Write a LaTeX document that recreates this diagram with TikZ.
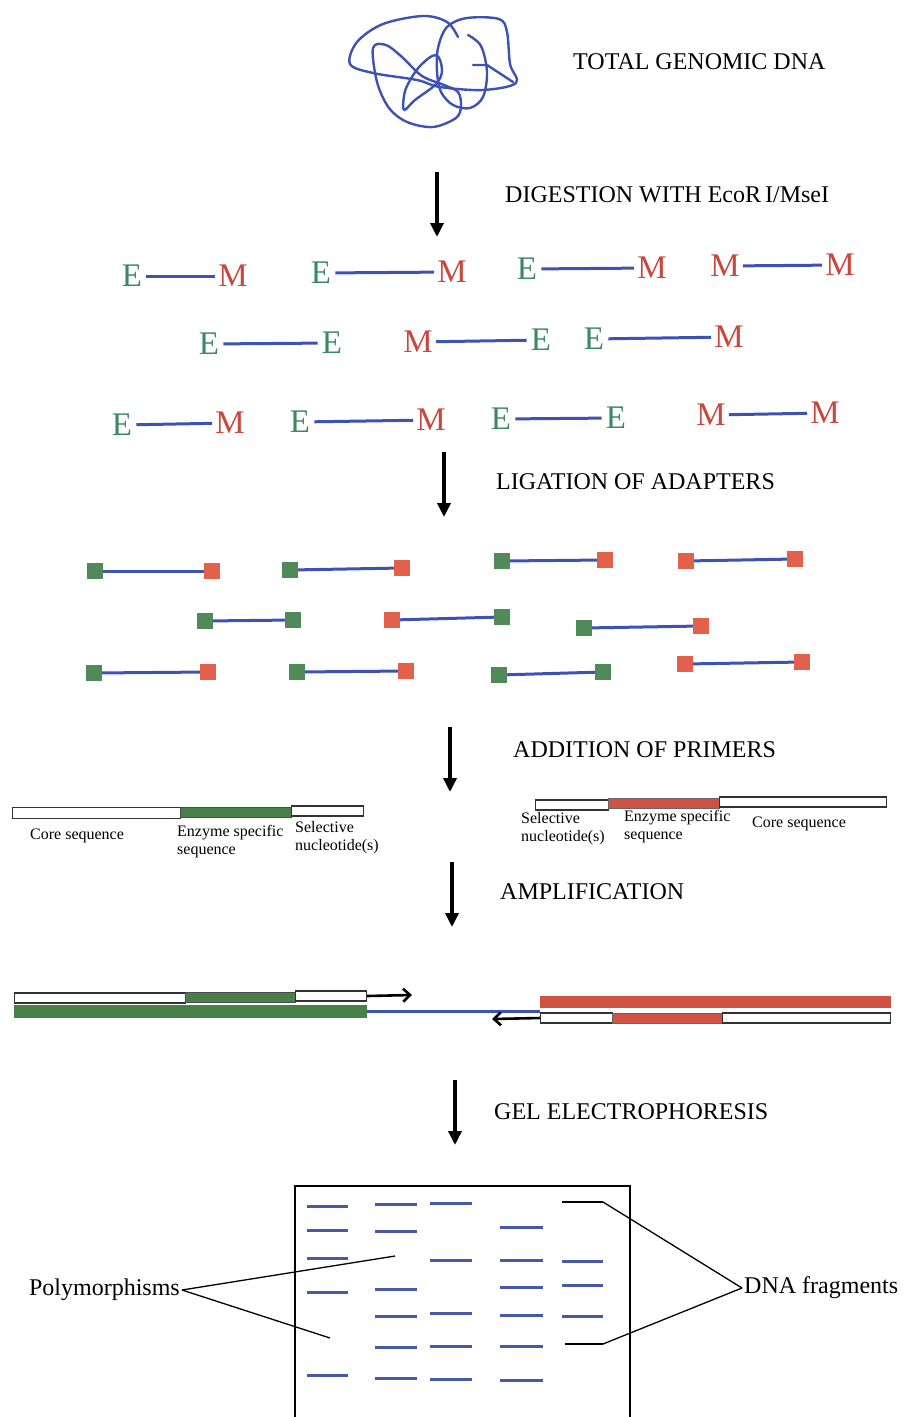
\documentclass[tikz,border=0pt]{standalone}
\usepackage{fontspec}
\setmainfont{Liberation Serif}
\usetikzlibrary{arrows.meta}
\definecolor{dnablue}{RGB}{62,82,180}
\definecolor{eGreen}{RGB}{60,135,100}
\definecolor{mRed}{RGB}{200,72,62}
\definecolor{adGreen}{RGB}{80,138,88}
\definecolor{adRed}{RGB}{226,96,76}
\definecolor{prGreen}{RGB}{72,128,74}
\definecolor{prRed}{RGB}{208,82,66}
\definecolor{bandBlue}{RGB}{72,88,170}
\tikzset{
  dna/.style={draw=dnablue, line width=2.4pt, line join=round, line cap=round},
  heading/.style={font=\fontsize{24}{26}\selectfont, inner sep=0, anchor=west},
  letE/.style={font=\fontsize{33}{33}\selectfont, text=eGreen, inner xsep=4pt, inner ysep=0, text height=21.8pt, text depth=0pt},
  letM/.style={font=\fontsize{33}{33}\selectfont, text=mRed, inner xsep=3pt, inner ysep=0, text height=21.8pt, text depth=0pt},
  fragline/.style={draw=dnablue, line width=3pt},
  sqG/.style={fill=adGreen, minimum size=16pt, inner sep=0},
  sqR/.style={fill=adRed, minimum size=16pt, inner sep=0},
  stagearrow/.style={line width=3.4pt, -{Triangle[length=14pt,width=13pt]}},
  wbar/.style={draw=black!80, fill=white, line width=1.1pt, inner sep=0, anchor=west},
  gbar/.style={draw=black!70, fill=prGreen, line width=0.9pt, inner sep=0, anchor=west},
  rbar/.style={draw=black!60, fill=prRed, line width=0.9pt, inner sep=0, anchor=west},
  lab/.style={font=\fontsize{16}{18}\selectfont, inner sep=0, align=left},
  amparrow/.style={line width=2.6pt, -{Straight Barb[length=7pt,width=13pt,line width=2.6pt]}},
  band/.style={draw=bandBlue, line width=3pt},
  bandK/.style={draw=black, line width=2.8pt},
  pointer/.style={draw=black, line width=1.3pt},
  biglab/.style={font=\fontsize{24}{26}\selectfont, inner sep=2pt}
}
\begin{document}
\begin{tikzpicture}[x=1pt,y=-1pt]
\useasboundingbox (0,0) rectangle (906,1417);

% ---------- genomic DNA tangle ----------
\draw[dna] plot[smooth, tension=0.55] coordinates {(458,37) (447,22) (423,16) (383,24) (357,42) (350,64) (373,73) (417,80) (440,87) (483,90) (516,83) (510,64) (507,32) (499,19) (467,18) (447,27) (438,48) (437,72) (441,92) (453,105) (470,108) (483,97) (487,72) (481,46) (468,35)};
\draw[dna] plot[smooth cycle, tension=0.55] coordinates {(373,48) (386,45) (402,57) (422,76) (444,85) (458,92) (461,106) (456,118) (433,127) (407,122) (389,108) (377,82)};
\draw[dna] plot[smooth cycle, tension=0.6] coordinates {(408,84) (420,66) (436,55) (442,70) (436,84) (415,100) (404,110) (404,96)};
\draw[dna] (473,65) -- (487,65) -- (513,82);
\node[heading] (total) at (573,62) {TOTAL GENOMIC DNA};

% ---------- stage 1: digestion ----------
\coordinate (a1s) at (437,172); \coordinate (a1e) at (437,237);
\draw[stagearrow] (a1s) -- (a1e);
\node[heading] (digest) at (505,195) {DIGESTION WITH EcoR\,I/MseI};

% fragments row 1
\node[letE] (f1a) at (132,276) {E}; \node[letM] (f1b) at (233,276) {M};
\node[letE] (f2a) at (321,273) {E}; \node[letM] (f2b) at (452,272) {M};
\node[letE] (f3a) at (527,269) {E}; \node[letM] (f3b) at (652,268) {M};
\node[letM] (f4a) at (725,266) {M}; \node[letM] (f4b) at (840,265) {M};
% row 2
\node[letE] (f5a) at (209,344) {E}; \node[letE] (f5b) at (332,343) {E};
\node[letM] (f6a) at (418,342) {M}; \node[letE] (f6b) at (541,340) {E};
\node[letE] (f7a) at (594,339) {E}; \node[letM] (f7b) at (729,337) {M};
% row 3
\node[letE] (f8a) at (122,425) {E}; \node[letM] (f8b) at (230,423) {M};
\node[letE] (f9a) at (300,422) {E}; \node[letM] (f9b) at (431,420) {M};
\node[letE] (f10a) at (501,419) {E}; \node[letE] (f10b) at (616,418) {E};
\node[letM] (f11a) at (711,415) {M}; \node[letM] (f11b) at (825,413) {M};
\foreach \i in {1,...,11} {\draw[fragline] (f\i a) -- (f\i b);}

% ---------- stage 2: ligation ----------
\coordinate (a2s) at (444,452); \coordinate (a2e) at (444,517);
\draw[stagearrow] (a2s) -- (a2e);
\node[heading] (ligation) at (496,482) {LIGATION OF ADAPTERS};

\node[sqG] (d1a) at (95,571) {};  \node[sqR] (d1b) at (212,571) {};
\node[sqG] (d2a) at (290,570) {}; \node[sqR] (d2b) at (402,568) {};
\node[sqG] (d3a) at (502,561) {}; \node[sqR] (d3b) at (605,560) {};
\node[sqR] (d4a) at (686,561) {}; \node[sqR] (d4b) at (795,559) {};
\node[sqG] (d5a) at (205,621) {}; \node[sqG] (d5b) at (293,620) {};
\node[sqR] (d6a) at (392,620) {}; \node[sqG] (d6b) at (502,617) {};
\node[sqG] (d7a) at (584,628) {}; \node[sqR] (d7b) at (701,626) {};
\node[sqG] (d8a) at (94,673) {};  \node[sqR] (d8b) at (208,672) {};
\node[sqG] (d9a) at (297,672) {}; \node[sqR] (d9b) at (406,671) {};
\node[sqG] (d10a) at (499,675) {}; \node[sqG] (d10b) at (603,672) {};
\node[sqR] (d11a) at (685,664) {}; \node[sqR] (d11b) at (802,662) {};
\foreach \i in {1,...,11} {\draw[fragline] (d\i a) -- (d\i b);}

% ---------- stage 3: primers ----------
\coordinate (a3s) at (450,727); \coordinate (a3e) at (450,792);
\draw[stagearrow] (a3s) -- (a3e);
\node[heading] (primers) at (513,750) {ADDITION OF PRIMERS};

\node[wbar, minimum width=168pt, minimum height=11pt] (pl1) at (12,813) {};
\node[gbar, minimum width=111pt, minimum height=10pt] (pl2) at (180,812) {};
\node[wbar, minimum width=72pt, minimum height=10pt] (pl3) at (291,811) {};
\node[lab, anchor=west] (lcore) at (30,836) {Core sequence};
\node[lab, anchor=north west] (lenz) at (177,825) {Enzyme specific\\sequence};
\node[lab, anchor=north west] (lsel) at (295,821) {Selective\\nucleotide(s)};

\node[wbar, minimum width=73pt, minimum height=10pt] (pr1) at (535,805) {};
\node[rbar, minimum width=111pt, minimum height=10pt] (pr2) at (608,803) {};
\node[wbar, minimum width=167pt, minimum height=10pt] (pr3) at (719,802) {};
\node[lab, anchor=north west] (rsel) at (521,812) {Selective\\nucleotide(s)};
\node[lab, anchor=north west] (renz) at (624,810) {Enzyme specific\\sequence};
\node[lab, anchor=west] (rcore) at (752,824) {Core sequence};

% ---------- stage 4: amplification ----------
\coordinate (a4s) at (452,862); \coordinate (a4e) at (452,927);
\draw[stagearrow] (a4s) -- (a4e);
\node[heading] (ampl) at (500,892) {AMPLIFICATION};

\node[wbar, minimum width=171pt, minimum height=10pt] (t1) at (14,998) {};
\node[gbar, minimum width=110pt, minimum height=10pt] (t2) at (185,997) {};
\node[wbar, minimum width=71pt, minimum height=10pt] (t3) at (295,996) {};
\coordinate (tArr) at (412,995);
\draw[amparrow] (t3.east) -- (tArr);
\node[gbar, draw=prGreen, minimum width=352pt, minimum height=12pt] (gbot) at (14,1011) {};
\node[rbar, draw=prRed, minimum width=350pt, minimum height=11pt] (rtop) at (540,1002) {};
\draw[draw=dnablue, line width=3pt] (gbot.east) -- (gbot.east -| rtop.west);
\node[wbar, minimum width=72pt, minimum height=10pt] (u1) at (540,1018) {};
\node[rbar, minimum width=110pt, minimum height=10pt] (u2) at (612,1018) {};
\node[wbar, minimum width=168pt, minimum height=10pt] (u3) at (722,1018) {};
\coordinate (uArr) at (492,1019);
\draw[amparrow] (u1.west) -- (uArr);

% ---------- stage 5: gel ----------
\coordinate (a5s) at (455,1080); \coordinate (a5e) at (455,1145);
\draw[stagearrow] (a5s) -- (a5e);
\node[heading] (gel) at (494,1112) {GEL ELECTROPHORESIS};

\draw[line width=1.8pt] (295,1417) -- (295,1186) -- (630,1186) -- (630,1417);

% lane 1
\foreach \y in {1206,1230,1258,1292,1375} {\draw[band] (307,\y) -- (348,\y);}
% lane 2
\foreach \y in {1204,1231,1289,1316,1347,1378} {\draw[band] (375,\y) -- (417,\y);}
% lane 3
\foreach \y in {1203,1260,1313,1346,1379} {\draw[band] (430,\y) -- (472,\y);}
% lane 4
\foreach \y in {1227,1260,1287,1315,1346,1380} {\draw[band] (500,\y) -- (543,\y);}
% lane 5
\foreach \y in {1261,1285,1316} {\draw[band] (562,\y) -- (603,\y);}
\coordinate (k1) at (603,1202); \coordinate (k2) at (603,1344);
\draw[bandK] (562,1202) -- (k1);
\draw[bandK] (565,1344) -- (k2);

\node[biglab, anchor=east] (poly) at (182,1290) {Polymorphisms};
\coordinate (pp1) at (395,1256);
\coordinate (pp2) at (330,1338);
\draw[pointer] (poly.east) -- (pp1);
\draw[pointer] (poly.east) -- (pp2);

\node[biglab, anchor=west] (dnafr) at (742,1288) {DNA fragments};
\draw[pointer] (dnafr.west) -- (k1);
\draw[pointer] (dnafr.west) -- (k2);
\end{tikzpicture}
\end{document}
